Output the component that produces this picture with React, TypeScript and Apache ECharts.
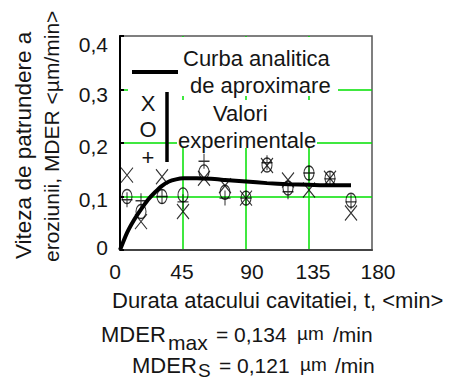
import React, { useEffect, useRef } from 'react';
import * as echarts from 'echarts';

const xTicks = [0, 45, 90, 135, 180];
const yTicks = [0, 0.1, 0.2, 0.3, 0.4];
const sampleTimes = [5, 15, 30, 45, 60, 75, 90, 105, 120, 135, 150, 165];
const seriesX = [0.14, 0.053, 0.137, 0.072, 0.134, 0.12, 0.097, 0.158, 0.131, 0.112, 0.134, 0.069];
const seriesO = [0.1, 0.072, 0.1, 0.103, 0.146, 0.108, 0.097, 0.159, 0.116, 0.144, 0.134, 0.093];
const seriesPlus = [0.094, 0.092, 0.1, 0.09, 0.166, 0.097, 0.097, 0.163, 0.109, 0.144, 0.133, 0.09];
const curveTimes = [0, 5, 10, 15, 20, 25, 30, 35, 40, 45, 55, 65, 75, 90, 105, 120, 135, 150, 165];
const curveValues = [0, 0.032, 0.056, 0.076, 0.094, 0.108, 0.12, 0.128, 0.132, 0.134, 0.134, 0.133, 0.131, 0.128, 0.125, 0.123, 0.122, 0.121, 0.121];

const yTitle = ['Viteza de patrundere a', 'eroziunii, MDER <\u00B5m/min>'];
const xTitle = 'Durata atacului cavitatiei, t, <min>';
const legendCurve = ['Curba analitica', 'de aproximare'];
const legendExp = ['Valori', 'experimentale'];
const mderMax = '0,134';
const mderS = '0,121';

const FONT = '"Liberation Sans", Arial, sans-serif';
const TXT = '#151515';
const GREEN = '#00e000';

// small label nudges seen in the reference (pixels)
const yLabelShift = [-2.5, 2.5, 3.5, 5, 8.5];
const xLabelShift = [-5, -1, 6, 4, 6];

const symX = 'path://M0,0L10,12M10,0L0,12';
const symO = 'path://M5,0A5,7 0 1,1 5,14A5,7 0 1,1 5,0Z';
const symPlus = 'path://M5,0L5,12M0,6L10,6';

function txt(x: number, y: number, text: string, size: number, extra: any = {}) {
  return {
    type: 'text',
    x,
    y,
    z: 10,
    style: {
      text,
      fontFamily: FONT,
      fontSize: size,
      fill: TXT,
      align: 'left',
      verticalAlign: 'middle',
      ...extra,
    },
  };
}

function rot(x: number, y: number, text: string, size: number) {
  return {
    type: 'text',
    x,
    y,
    rotation: Math.PI / 2,
    z: 10,
    style: {
      text,
      fontFamily: FONT,
      fontSize: size,
      fill: TXT,
      align: 'left',
      verticalAlign: 'middle',
    },
  };
}

export default function App() {
  const ref = useRef<HTMLDivElement>(null);
  useEffect(() => {
    if (!ref.current) return;
    const chart = echarts.init(ref.current, null, { renderer: 'svg' });
    const pair = (ys: number[]) => sampleTimes.map((t, i) => [t, ys[i]]);
    const markerSeries = (name: string, sym: string, size: number[], ys: number[]) => ({
      name,
      type: 'scatter',
      data: pair(ys),
      symbol: sym,
      symbolSize: size,
      z: 4,
      itemStyle: { color: 'rgba(0,0,0,0)', borderColor: '#000', borderWidth: 1.2 },
    });
    const yRich: any = {};
    yTicks.forEach((_, i) => {
      const d = yLabelShift[i];
      yRich['y' + i] = {
        fontSize: 21,
        fontFamily: FONT,
        color: TXT,
        padding: d >= 0 ? [2 * d, 0, 0, 0] : [0, 0, -2 * d, 0],
      };
    });
    const xRich: any = {};
    xTicks.forEach((_, i) => {
      const d = xLabelShift[i];
      xRich['x' + i] = {
        fontSize: 21,
        fontFamily: FONT,
        color: TXT,
        padding: d >= 0 ? [0, 0, 0, 2 * d] : [0, -2 * d, 0, 0],
      };
    });
    chart.setOption({
      animation: false,
      backgroundColor: '#fff',
      grid: {
        left: 120,
        top: 36,
        right: 82,
        bottom: 131,
        show: true,
        borderColor: '#555',
        borderWidth: 1.5,
        backgroundColor: 'transparent',
      },
      xAxis: {
        type: 'value',
        min: xTicks[0],
        max: xTicks[xTicks.length - 1],
        interval: 45,
        axisLine: { lineStyle: { color: '#444', width: 2 } },
        axisTick: { show: false },
        axisLabel: {
          margin: 11,
          rich: xRich,
          formatter: (v: number) => {
            const i = xTicks.indexOf(v);
            return '{x' + i + '|' + v + '}';
          },
        },
        splitLine: { show: true, showMinLine: false, showMaxLine: false, lineStyle: { color: GREEN, width: 1.5 } },
      },
      yAxis: {
        type: 'value',
        min: yTicks[0],
        max: yTicks[yTicks.length - 1],
        interval: 0.1,
        axisLine: { show: true, lineStyle: { color: '#000', width: 2 } },
        axisTick: { show: true, inside: true, length: 4, lineStyle: { color: '#000', width: 2 } },
        axisLabel: {
          margin: 12,
          rich: yRich,
          formatter: (v: number) => {
            const i = Math.round(v * 10);
            const s = v === 0 ? '0' : v.toFixed(1).replace('.', ',');
            return '{y' + i + '|' + s + '}';
          },
        },
        splitLine: { show: true, showMinLine: false, showMaxLine: false, lineStyle: { color: GREEN, width: 1.5 } },
      },
      series: [
        {
          name: 'curve',
          type: 'line',
          data: curveTimes.map((t, i) => [t, curveValues[i]]),
          symbol: 'none',
          smooth: 0.2,
          z: 3,
          lineStyle: { color: '#000', width: 4 },
        },
        markerSeries('X', symX, [12, 15], seriesX),
        markerSeries('O', symO, [10, 14], seriesO),
        markerSeries('+', symPlus, [11, 15], seriesPlus),
      ],
      graphic: [
        { type: 'rect', z: 1, shape: { x: 128, y: 37, width: 210, height: 59 }, style: { fill: '#fff' } },
        { type: 'rect', z: 1, shape: { x: 128, y: 100, width: 210, height: 42 }, style: { fill: '#fff' } },
        { type: 'rect', z: 1, shape: { x: 128, y: 94, width: 50, height: 10 }, style: { fill: '#fff' } },
        { type: 'rect', z: 1, shape: { x: 177, y: 130, width: 140, height: 18 }, style: { fill: '#fff' } },
        { type: 'line', z: 10, shape: { x1: 132, y1: 72, x2: 178, y2: 72 }, style: { stroke: '#000', lineWidth: 4 } },
        { type: 'line', z: 10, shape: { x1: 167, y1: 92, x2: 167, y2: 162 }, style: { stroke: '#000', lineWidth: 3.5 } },
        txt(183, 58, legendCurve[0], 22),
        txt(190, 85, legendCurve[1], 22),
        txt(213, 113, legendExp[0], 22),
        txt(178, 140, legendExp[1], 22),
        txt(148, 103, 'X', 22, { align: 'center' }),
        txt(148, 129, 'O', 22, { align: 'center' }),
        txt(148, 157, '+', 22, { align: 'center' }),
        rot(23, 259, yTitle[0], 22.5),
        rot(51, 262, yTitle[1], 21),
        txt(112, 300, xTitle, 22),
        txt(101, 334, 'MDER', 22),
        txt(168, 342, 'max', 21),
        txt(216, 334, '= ' + mderMax, 21),
        txt(297, 333, '\u00B5m', 19),
        txt(333, 334, '/min', 21),
        txt(132, 365, 'MDER', 22),
        txt(198, 370, 'S', 19),
        txt(219, 365, '= ' + mderS, 21),
        txt(300, 364, '\u00B5m', 19),
        txt(335, 365, '/min', 21),
      ],
    });
    return () => chart.dispose();
  }, []);
  return <div ref={ref} style={{ width: 454, height: 381, position: 'absolute', left: 0, top: 0 }} />;
}
